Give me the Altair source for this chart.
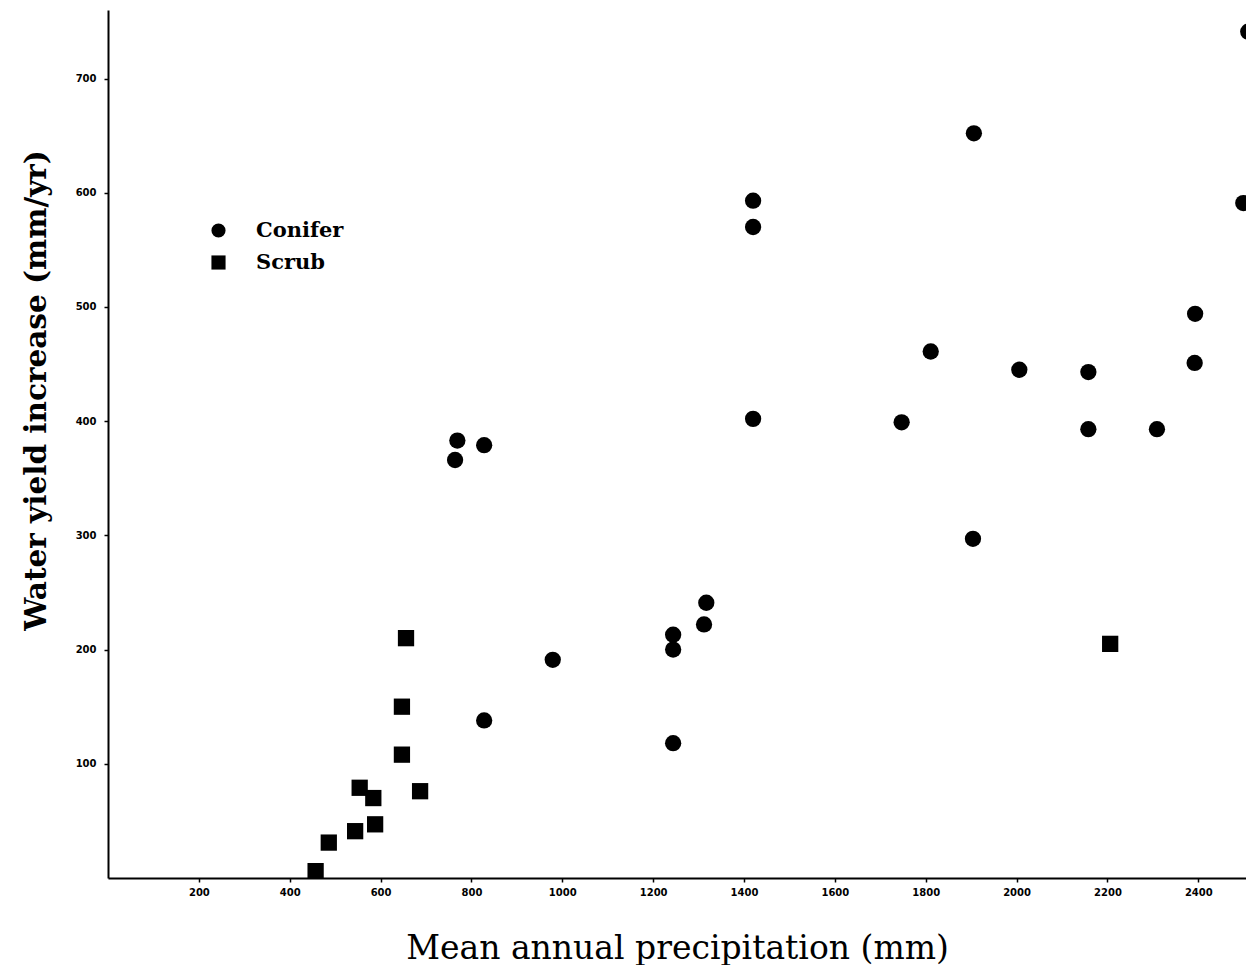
import altair as alt
import pandas as pd

# Conifer sites: mean annual precipitation (mm), water yield increase (mm/yr)
conifer_precip = [769, 828, 764, 979, 828, 1244, 1244, 1317, 1312, 1244,
                  1420, 1420, 1420, 1747, 1811, 1906, 1904, 2006, 2158, 2158,
                  2309, 2393, 2392, 2510, 2499]
conifer_yield = [383, 379, 366, 191, 138, 213, 200, 241, 222, 118,
                 593, 570, 402, 399, 461, 652, 297, 445, 443, 393,
                 393, 494, 451, 741, 591]

# Scrub sites
scrub_precip = [457, 486, 544, 554, 584, 588, 647, 647, 656, 687, 2206]
scrub_yield = [6, 31, 41, 79, 70, 47, 108, 150, 210, 76, 205]

x_ticks = [200, 400, 600, 800, 1000, 1200, 1400, 1600, 1800, 2000, 2200, 2400]
y_ticks = [100, 200, 300, 400, 500, 600, 700]
types = ["Conifer", "Scrub"]

df = pd.concat([
    pd.DataFrame({"precip": conifer_precip, "yield": conifer_yield, "type": "Conifer"}),
    pd.DataFrame({"precip": scrub_precip, "yield": scrub_yield, "type": "Scrub"}),
])

chart = alt.Chart(df).mark_point(filled=True, opacity=1, color="black", size=265, clip=True).encode(
    x=alt.X("precip:Q",
            scale=alt.Scale(domain=[0, 2505], nice=False, zero=True),
            axis=alt.Axis(values=x_ticks, format="d", title="Mean annual precipitation (mm)",
                          grid=False, domainColor="black", domainWidth=2,
                          tickColor="black", tickSize=4, tickWidth=1.5,
                          labelFont="DejaVu Sans", labelFontWeight="bold", labelFontSize=10,
                          labelColor="black", labelPadding=5,
                          titleFont="DejaVu Serif", titleFontSize=33, titleFontWeight="normal",
                          titleColor="black", titleX=569, titleY=80,
                          titleAlign="center", titleBaseline="alphabetic")),
    y=alt.Y("yield:Q",
            scale=alt.Scale(domain=[0, 760], nice=False, zero=True),
            axis=alt.Axis(values=y_ticks, format="d", title="Water yield increase (mm/yr)",
                          grid=False, domainColor="black", domainWidth=2,
                          tickColor="black", tickSize=4, tickWidth=1.5,
                          labelFont="DejaVu Sans", labelFontWeight="bold", labelFontSize=10,
                          labelColor="black", labelPadding=8,
                          titleFont="DejaVu Serif", titleFontSize=29.5, titleFontWeight="bold",
                          titleColor="black", titleX=-63, titleY=380, titleAngle=270,
                          titleAlign="center", titleBaseline="alphabetic")),
    shape=alt.Shape("type:N",
                    scale=alt.Scale(domain=types, range=["circle", "square"]),
                    legend=alt.Legend(title=None, orient="none", legendX=100, legendY=210,
                                      symbolSize=200, symbolFillColor="black",
                                      symbolStrokeColor="black", symbolType="circle",
                                      labelFont="DejaVu Serif", labelFontWeight="bold",
                                      labelFontSize=21, labelColor="black",
                                      labelOffset=27, rowPadding=10, padding=0)),
).properties(
    width=1138,
    height=868,
    padding={"left": 100, "top": 2, "right": 0, "bottom": 87},
    autosize=alt.AutoSizeParams(type="none"),
    background="white",
).configure_view(stroke=None)

chart.save("out.html", embed_options={"renderer": "svg", "actions": False})
